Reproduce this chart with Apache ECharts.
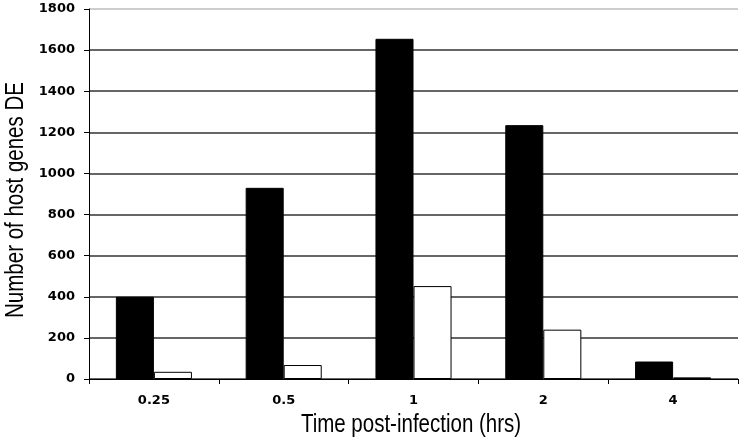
<!DOCTYPE html>
<html>
<head>
<meta charset="utf-8">
<script src="https://cdn.jsdelivr.net/npm/echarts@6/dist/echarts.min.js"></script>
<style>
html,body{margin:0;padding:0;background:#fff;}
#chart{width:745px;height:447px;}
</style>
</head>
<body>
<div id="chart"></div>
<script>
const categories = ['0.25', '0.5', '1', '2', '4'];
const seriesBlack = [400, 930, 1655, 1235, 85];
const seriesWhite = [35, 68, 452, 240, 8];
const yTicks = [0, 200, 400, 600, 800, 1000, 1200, 1400, 1600, 1800];
const xTitle = 'Time post-infection (hrs)';
const yTitle = 'Number of host genes DE';

const titleFont = '"Liberation Sans", Arial, sans-serif';
const boldFont = '"DejaVu Sans", sans-serif';

const chart = echarts.init(document.getElementById('chart'), null, {renderer: 'canvas'});
const gridColors = yTicks.map((v, i) => i === yTicks.length - 1 ? '#bdbdbd' : '#333333');

chart.setOption({
  animation: false,
  backgroundColor: '#ffffff',
  grid: {left: 89, right: 7, top: 9, bottom: 68, containLabel: false, outerBoundsMode: 'none'},
  xAxis: {
    type: 'category',
    data: categories,
    axisLine: {lineStyle: {color: '#000', width: 1}},
    axisTick: {show: true, length: 5, lineStyle: {color: '#000'}},
    axisLabel: {margin: 15, fontFamily: boldFont, fontWeight: 'bold', fontSize: 13, color: '#000'},
    splitLine: {show: false}
  },
  yAxis: {
    type: 'value',
    min: 0,
    max: 1800,
    interval: 200,
    axisLine: {show: true, lineStyle: {color: '#000', width: 1}},
    axisTick: {show: true, length: 5, lineStyle: {color: '#000'}},
    axisLabel: {margin: 14, fontFamily: boldFont, fontWeight: 'bold', fontSize: 13, color: '#000',
      formatter: v => String(v)},
    splitLine: {show: true, lineStyle: {color: gridColors, width: 1.5}}
  },
  graphic: [
    {
      type: 'text',
      x: 411, y: 425,
      scaleX: 0.82,
      style: {text: xTitle, font: '25px ' + titleFont, fill: '#000',
        textAlign: 'center', textVerticalAlign: 'middle'}
    },
    {
      type: 'text',
      x: 16, y: 200,
      rotation: Math.PI / 2,
      scaleX: 0.82,
      style: {text: yTitle, font: '25px ' + titleFont, fill: '#000',
        textAlign: 'center', textVerticalAlign: 'middle'}
    }
  ],
  series: [
    {
      type: 'bar',
      data: seriesBlack,
      barWidth: '29.3%',
      barGap: '0%',
      itemStyle: {color: '#000', borderColor: '#000', borderWidth: 1}
    },
    {
      type: 'bar',
      data: seriesWhite,
      barWidth: '29.3%',
      barGap: '0%',
      itemStyle: {color: '#fff', borderColor: '#000', borderWidth: 1}
    }
  ]
});
</script>
</body>
</html>
